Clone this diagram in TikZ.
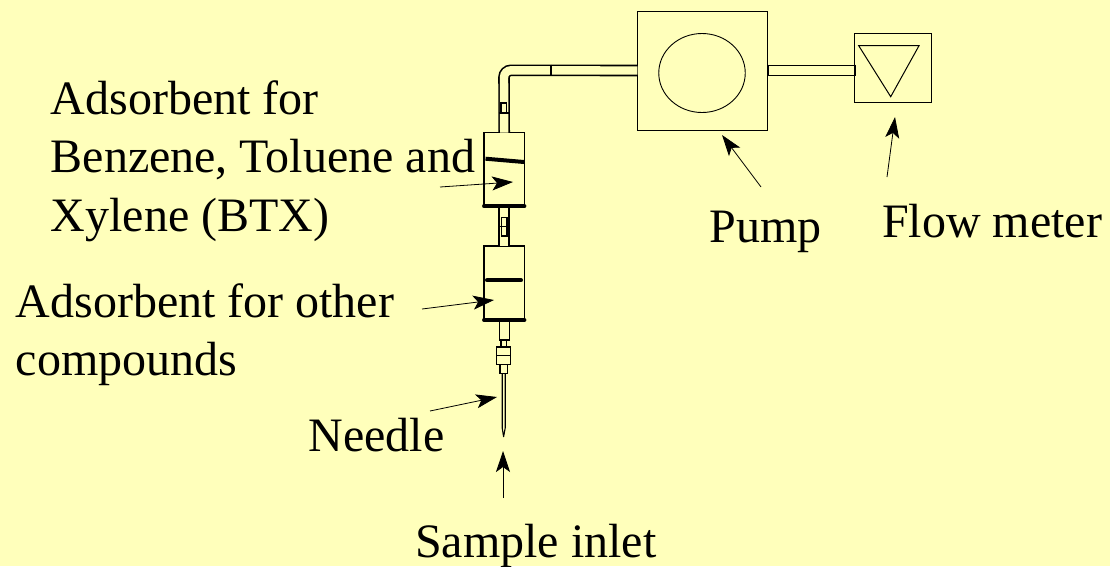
\documentclass[tikz,border=0pt]{standalone}
\usepackage{fontspec}
\setmainfont{Liberation Serif}
\usepackage{xcolor}
\usetikzlibrary{arrows.meta,shapes.geometric}
\definecolor{paper}{HTML}{FFFFBB}
\tikzset{
  part/.style={draw,line width=1.3pt,inner sep=0pt,outer sep=0pt},
  pipe/.style={line width=1.6pt,double=paper,double distance=8.4pt},
  lead/.style={line width=0.8pt,-{Stealth[length=21pt,width=14pt,inset=5pt]}},
  bar/.style={line width=4pt,line cap=round},
  lbl/.style={anchor=base west,inner sep=0pt,align=left,font=\fontsize{48}{58.5}\selectfont}
}
\newcommand{\pipeend}[2]{\draw[line width=2pt] (#1,#2-5.8) -- (#1,#2+5.8);}

\begin{document}
\begin{tikzpicture}[x=1pt,y=-1pt]
\useasboundingbox[fill=paper] (0,0) rectangle (1110,566);
% pump and flow meter
\node[part,line width=1pt,minimum width=130.5pt,minimum height=119pt] (pump) at (702.7,70.5) {};
\node[part,line width=0.9pt,ellipse,minimum width=86.5pt,minimum height=79pt] (rotor) at (702,73) {};
\node[part,line width=1pt,minimum width=77pt,minimum height=69.5pt] (meter) at (892.5,67.9) {};
\draw[line width=1pt,line join=miter] (858.7,45.7) -- (919,45.7) -- (890.7,96.7) -- cycle;
% cartridges
\node[part,minimum width=40.3pt,minimum height=73.5pt] (upper) at (504.2,169.4) {};
\node[part,minimum width=40.3pt,minimum height=74pt] (lower) at (504.2,283) {};
\draw[pipe] (upper.south) -- (lower.north);
\draw[pipe,rounded corners=7pt] (upper.north) -- (504,70.3) -- (pump.west);
\draw[pipe] (pump.east) -- (pump.east -| meter.west);
\pipeend{551}{70.3} \pipeend{768}{70.3} \pipeend{855}{70.3}
\draw[line width=1.4pt] (498.7,113) -- (509.3,113);
\draw[bar] (upper.south west) -- (upper.south east);
\draw[bar] (lower.south west) -- (lower.south east);
\draw[bar,line cap=butt] (485.5,158.7) -- (524,162);
\draw[bar] (487,280.3) -- (521,280.3);
% fittings
\node[part,minimum width=5.7pt,minimum height=10pt] (topclip) at (503.8,108) {};
\node[part,minimum width=5.7pt,minimum height=18.7pt] (midclip) at (504.2,226.7) {};
\draw[line width=1.2pt] (499,226.7) -- (509.5,226.7);
\node[part,minimum width=10.5pt,minimum height=20pt] (stem) at (504.4,330) {};
\node[part,minimum width=5.7pt,minimum height=6.5pt] (neck) at (503.8,343.8) {};
\node[part,minimum width=14pt,minimum height=17.3pt] (hub) at (503.7,355.7) {};
\draw[line width=1.2pt] (hub.west) -- (hub.east);
\node[part,minimum width=7.3pt,minimum height=9pt] (collar) at (503.7,368.7) {};
\draw[line width=1.1pt,line join=round] (502.2,373) -- (502.2,428) -- (503.6,436.7) -- (505.2,428) -- (505.2,373);
% labels
\node[lbl] (btxlbl) at (50.5,231) {Adsorbent for\\Benzene, Toluene and\\Xylene (BTX)};
\node[lbl] (otherlbl) at (15.5,375.5) {Adsorbent for other\\compounds};
\node[lbl] (needlelbl) at (308.5,451) {Needle};
\node[lbl] (inletlbl) at (415,557) {Sample inlet};
\node[lbl] (pumplbl) at (709.5,242) {Pump};
\node[lbl] (meterlbl) at (882,237) {Flow meter};
% leaders
\coordinate (btxtail) at (440,187);   \coordinate (btxtip) at (513,182);
\coordinate (othertail) at (422,309); \coordinate (othertip) at (494,300);
\coordinate (needletail) at (430,411); \coordinate (needletip) at (497,397);
\coordinate (inlettail) at (503,498); \coordinate (inlettip) at (503,451);
\coordinate (pumptail) at (761,187);  \coordinate (pumptip) at (722,135);
\coordinate (metertail) at (887,177); \coordinate (metertip) at (895,117);
\draw[lead] (btxtail) -- (btxtip);
\draw[lead] (othertail) -- (othertip);
\draw[lead] (needletail) -- (needletip);
\draw[lead] (inlettail) -- (inlettip);
\draw[lead] (pumptail) -- (pumptip);
\draw[lead] (metertail) -- (metertip);
\end{tikzpicture}
\end{document}
